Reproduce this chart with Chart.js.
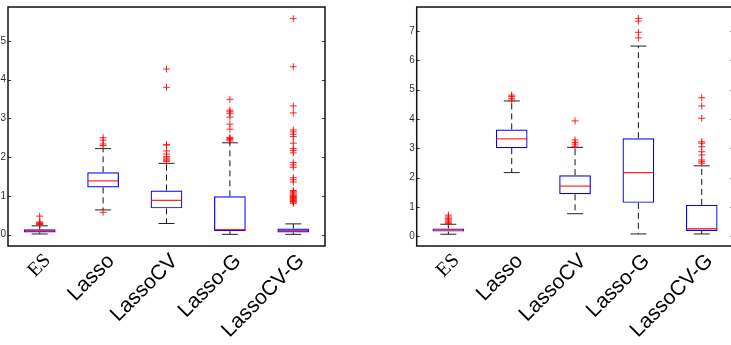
<!DOCTYPE html>
<html>
<head>
<meta charset="utf-8">
<script src="https://cdn.jsdelivr.net/npm/chart.js@4.4.1/dist/chart.umd.min.js"></script>
<style>
  html, body { margin: 0; padding: 0; background: #fff; overflow: hidden; width: 731px; height: 345px; }
  canvas { position: absolute; top: 0; }
  #left { left: -20px; }
  #right { left: 370px; }
</style>
</head>
<body>
<canvas id="left" width="350" height="345"></canvas>
<canvas id="right" width="370" height="345"></canvas>
<script>
var categories = ['ES', 'Lasso', 'LassoCV', 'Lasso-G', 'LassoCV-G'];

// left panel
var leftQ1 = [0.06, 1.22, 0.68, 0.09, 0.06];
var leftMedian = [0.10, 1.39, 0.885, 0.13, 0.11];
var leftQ3 = [0.14, 1.61, 1.14, 0.99, 0.16];
var leftLow = [0.02, 0.64, 0.29, 0.01, 0.01];
var leftHigh = [0.23, 2.22, 1.84, 2.37, 0.28];
var leftOutliers = [
    [0.48, 0.33, 0.31, 0.29, 0.27, 0.26],
    [2.50, 2.44, 2.34, 2.30, 0.58],
    [4.27, 3.80, 2.33, 2.31, 2.16, 2.08, 2.02, 1.98, 1.95, 1.92, 1.89],
    [3.49, 3.21, 3.17, 3.13, 3.03, 2.85, 2.72, 2.51, 2.48, 2.45, 2.42],
    [5.57, 4.33, 3.32, 3.14, 2.70, 2.65, 2.59, 2.53, 2.36, 2.22, 2.17, 2.11, 1.86, 1.80, 1.74, 1.47, 1.42, 1.36,
     1.14, 1.11, 1.08, 1.05, 1.02, 1.00, 0.98, 0.96, 0.94, 0.92, 0.90, 0.88, 0.86, 0.84, 0.81]
];
var leftTicks = [0, 1, 2, 3, 4, 5];

// right panel
var rightQ1 = [0.16, 3.00, 1.43, 1.14, 0.18];
var rightMedian = [0.22, 3.32, 1.71, 2.17, 0.26];
var rightQ3 = [0.27, 3.64, 2.08, 3.34, 1.07];
var rightLow = [0.07, 2.17, 0.77, 0.08, 0.08];
var rightHigh = [0.41, 4.61, 3.03, 6.48, 2.40];
var rightOutliers = [
    [0.72, 0.66, 0.61, 0.56, 0.52, 0.48, 0.44],
    [4.81, 4.76, 4.70, 4.64],
    [3.93, 3.28, 3.20, 3.14, 3.07],
    [7.42, 7.33, 6.95, 6.76],
    [4.72, 4.44, 4.02, 3.22, 3.17, 3.05, 2.88, 2.77, 2.60, 2.54, 2.49]
];
var rightTicks = [0, 1, 2, 3, 4, 5, 6, 7];

function makeDatasets(q1, med, q3, lo, hi, outl) {
    var whisk = [], caps = [], meds = [], pts = [];
    categories.forEach(function (c, i) {
        whisk.push({ x: c, y: q3[i] }, { x: c, y: hi[i] }, { x: c, y: null },
                   { x: c, y: q1[i] }, { x: c, y: lo[i] }, { x: c, y: null });
        caps.push({ x: c, y: lo[i] }, { x: c, y: hi[i] });
        meds.push({ x: c, y: med[i] });
        outl[i].forEach(function (v) { pts.push({ x: c, y: v }); });
    });
    return [{
        type: 'line', data: pts, showLine: false, order: 0,
        pointStyle: 'cross', pointRadius: 3.5, pointBorderWidth: 1,
        pointBorderColor: 'rgba(255,0,0,0.85)', pointBackgroundColor: 'rgba(0,0,0,0)'
    }, {
        type: 'line', data: meds, showLine: false, order: 1,
        pointStyle: 'line', pointRadius: 15.5, pointBorderWidth: 1.2,
        pointBorderColor: 'rgba(255,0,0,0.85)'
    }, {
        type: 'line', data: caps, showLine: false, order: 2,
        pointStyle: 'line', pointRadius: 8, pointBorderWidth: 1,
        pointBorderColor: '#222'
    }, {
        type: 'line', data: whisk, order: 3, spanGaps: false,
        borderColor: '#111', borderWidth: 1, borderDash: [6, 4],
        pointRadius: 0, tension: 0
    }, {
        type: 'bar', order: 4,
        data: categories.map(function (c, i) { return [q1[i], q3[i]]; }),
        backgroundColor: 'rgba(0,0,0,0)', borderColor: '#0000ff', borderWidth: 1.2,
        borderSkipped: false, barPercentage: 0.5, categoryPercentage: 1
    }];
}

// frame and inward ticks, on both sides
var framePlugin = {
    id: 'frame',
    afterDraw: function (chart) {
        var a = chart.chartArea, ctx = chart.ctx, ys = chart.scales.y;
        ctx.save();
        ctx.strokeStyle = '#333';
        ctx.lineWidth = 1;
        ys.ticks.forEach(function (t) {
            var py = Math.round(ys.getPixelForValue(t.value)) + 0.5;
            ctx.beginPath();
            ctx.moveTo(a.left, py); ctx.lineTo(a.left + 3, py);
            ctx.moveTo(a.right, py); ctx.lineTo(a.right - 3, py);
            ctx.stroke();
        });
        ctx.strokeStyle = '#111';
        ctx.lineWidth = 1.5;
        ctx.strokeRect(a.left, a.top, a.right - a.left, a.bottom - a.top);
        ctx.restore();
    }
};

function makeChart(id, sets, ymin, ymax, ticks, yWidth, padRight) {
    new Chart(document.getElementById(id).getContext('2d'), {
        type: 'bar',
        data: { labels: categories, datasets: sets },
        options: {
            responsive: false,
            animation: false,
            devicePixelRatio: 1,
            layout: { autoPadding: false, padding: { top: 7, right: padRight, left: 0, bottom: 0 } },
            plugins: { legend: { display: false }, tooltip: { enabled: false } },
            events: [],
            scales: {
                x: {
                    type: 'category', offset: true,
                    grid: { display: false, drawTicks: false }, border: { display: false },
                    afterFit: function (s) { s.height = 99; s.paddingLeft = 0; s.paddingRight = 0; },
                    ticks: {
                        autoSkip: false, maxRotation: 45, minRotation: 45, padding: 3, labelOffset: 8,
                        color: '#000',
                        font: function (ctx) {
                            return ctx.index === 0
                                ? { family: '"Liberation Serif", serif', size: 20 }
                                : { family: '"Liberation Sans", Arial, sans-serif', size: 21 };
                        }
                    }
                },
                y: {
                    min: ymin, max: ymax,
                    grid: { display: false, drawTicks: false }, border: { display: false },
                    afterFit: function (s) { s.width = yWidth; s.paddingTop = 0; s.paddingBottom = 0; },
                    afterBuildTicks: function (s) { s.ticks = ticks.map(function (v) { return { value: v }; }); },
                    ticks: { padding: 2, color: '#333', font: { family: '"Liberation Sans", Arial, sans-serif', size: 10 } }
                }
            }
        },
        plugins: [framePlugin]
    });
}

makeChart('left', makeDatasets(leftQ1, leftMedian, leftQ3, leftLow, leftHigh, leftOutliers), -0.29, 5.87, leftTicks, 28, 5);
makeChart('right', makeDatasets(rightQ1, rightMedian, rightQ3, rightLow, rightHigh, rightOutliers), -0.33, 7.81, rightTicks, 46.7, 6.6);
</script>
</body>
</html>
